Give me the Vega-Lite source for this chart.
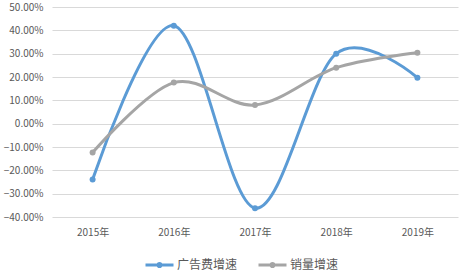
{
  "$schema": "https://vega.github.io/schema/vega-lite/v6.json",
  "width": 406,
  "height": 210,
  "autosize": {"type": "none"},
  "padding": {"left": 52, "top": 7, "right": 8, "bottom": 59},
  "background": "white",
  "config": {
    "view": {"stroke": null},
    "font": "Noto Sans CJK SC",
    "axis": {"labelColor": "#595959", "labelFontSize": 10, "labelFont": "Noto Sans CJK SC"},
    "legend": {"labelColor": "#595959", "labelFontSize": 12, "labelFont": "Noto Sans CJK SC"}
  },
  "data": {
    "values": [
      {"year": "2015年", "series": "广告费增速", "value": -0.239},
      {"year": "2016年", "series": "广告费增速", "value": 0.420},
      {"year": "2017年", "series": "广告费增速", "value": -0.362},
      {"year": "2018年", "series": "广告费增速", "value": 0.300},
      {"year": "2019年", "series": "广告费增速", "value": 0.197},
      {"year": "2015年", "series": "销量增速", "value": -0.124},
      {"year": "2016年", "series": "销量增速", "value": 0.176},
      {"year": "2017年", "series": "销量增速", "value": 0.080},
      {"year": "2018年", "series": "销量增速", "value": 0.240},
      {"year": "2019年", "series": "销量增速", "value": 0.304}
    ]
  },
  "encoding": {
    "x": {
      "field": "year", "type": "ordinal",
      "scale": {"type": "point", "padding": 0.5},
      "axis": {"title": null, "domain": false, "ticks": false, "labelAngle": 0, "labelPadding": 10, "grid": false}
    },
    "y": {
      "field": "value", "type": "quantitative",
      "scale": {"domain": [-0.4, 0.5], "nice": false, "zero": false},
      "axis": {"title": null, "format": ".2%", "domain": false, "ticks": false, "values": [-0.4,-0.3,-0.2,-0.1,0,0.1,0.2,0.3,0.4,0.5], "labelPadding": 9, "gridColor": "#D9D9D9", "gridWidth": 1}
    },
    "color": {
      "field": "series", "type": "nominal",
      "scale": {"domain": ["广告费增速", "销量增速"], "range": ["#5B9BD5", "#A5A5A5"]},
      "legend": {
        "title": null, "orient": "none", "direction": "horizontal",
        "legendX": 92, "legendY": 242,
        "symbolType": "M-1,0H1M0.11,0A0.11,0.11,0,1,1,-0.11,0A0.11,0.11,0,1,1,0.11,0Z",
        "symbolSize": 784, "symbolStrokeWidth": 3,
        "labelOffset": 2, "columnPadding": 14
      }
    }
  },
  "layer": [
    {"mark": {"type": "line", "interpolate": "cardinal", "tension": 0, "strokeWidth": 3}},
    {"mark": {"type": "point", "filled": true, "size": 36, "opacity": 1}}
  ]
}
